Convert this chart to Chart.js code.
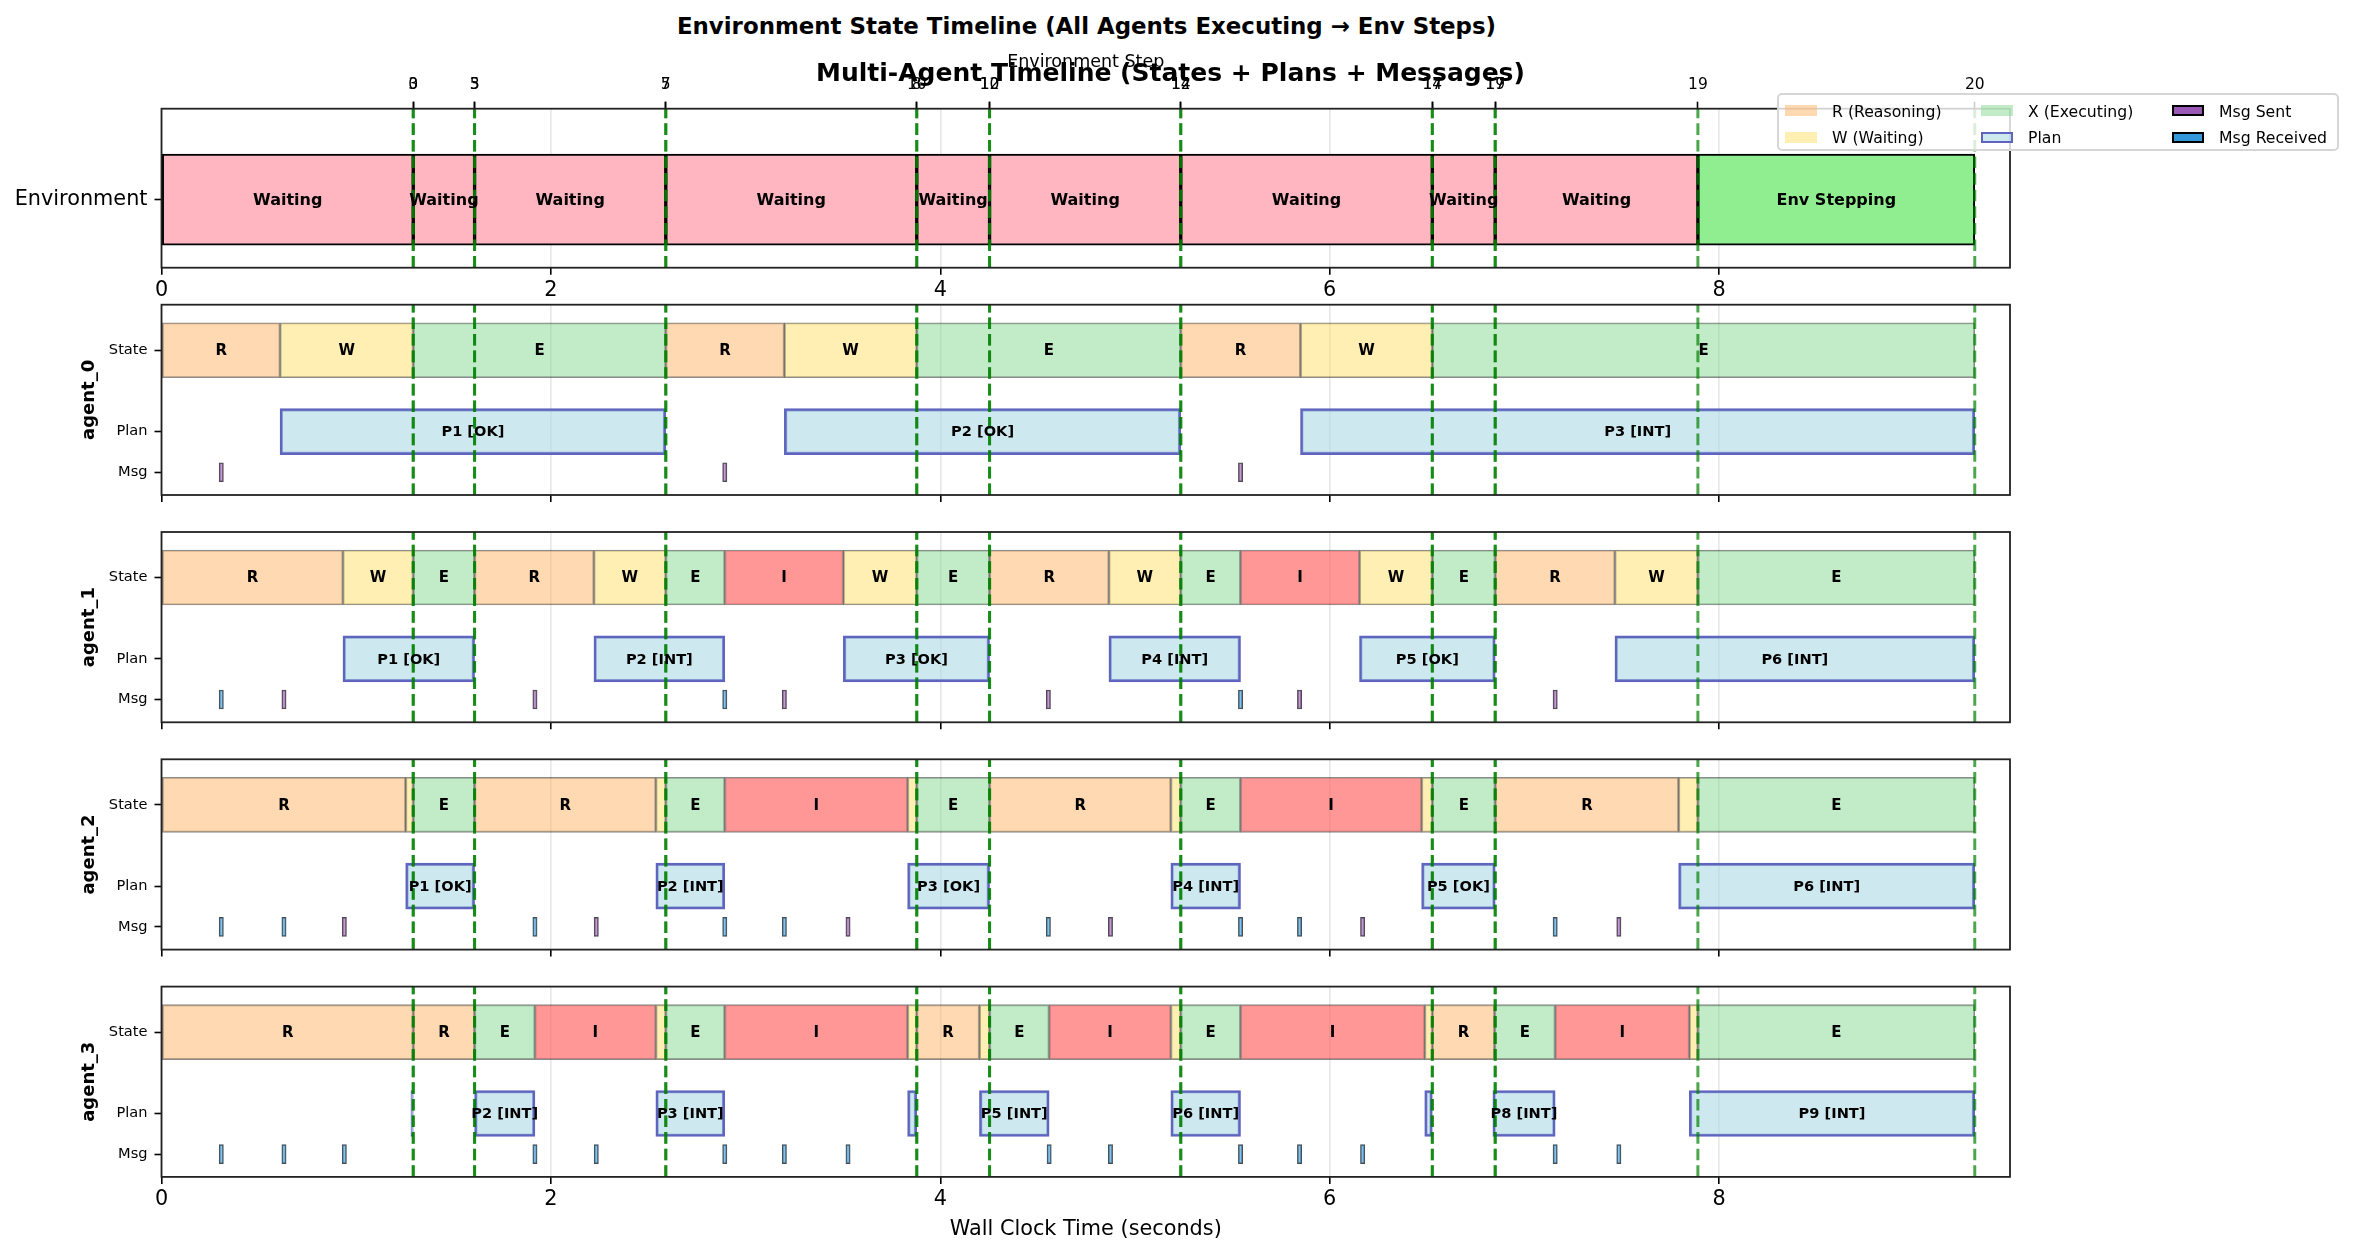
<!DOCTYPE html>
<html>
<head>
<meta charset="utf-8">
<script src="https://cdn.jsdelivr.net/npm/chart.js@4.4.1/dist/chart.umd.min.js"></script>
<style>
html,body{margin:0;padding:0;background:#fff;width:2353px;height:1255px;overflow:hidden;font-family:"DejaVu Sans",sans-serif;}
#wrap{position:relative;width:2353px;height:1255px;}
canvas{position:absolute;left:0;}
.ttl{position:absolute;white-space:nowrap;transform:translate(-50%,-50%);font-weight:bold;color:#000;z-index:5;}
#legend{position:absolute;left:1777px;top:93px;width:558px;height:54px;border:2px solid #d6d6d6;border-radius:5px;background:rgba(255,255,255,0.8);z-index:6;}
.lp{position:absolute;width:32px;height:11px;box-sizing:border-box;}
.lt{position:absolute;font-size:15.7px;white-space:nowrap;transform:translateY(-50%);color:#000;}
</style>
</head>
<body>
<div id="wrap">
<canvas id="cEnv" width="2353" height="280" style="top:40px"></canvas>
<canvas id="cA0" width="2353" height="250" style="top:285px"></canvas>
<canvas id="cA1" width="2353" height="250" style="top:512px"></canvas>
<canvas id="cA2" width="2353" height="250" style="top:739px"></canvas>
<canvas id="cA3" width="2353" height="288" style="top:967px"></canvas>
<div class="ttl" style="left:1086.5px;top:26px;font-size:22.9px">Environment State Timeline (All Agents Executing → Env Steps)</div>
<div class="ttl" style="left:1170.5px;top:72px;font-size:25px">Multi-Agent Timeline (States + Plans + Messages)</div>
<div id="legend"></div>
</div>
<script>
// ---------------- DATA ----------------
const timeTicks = [0, 2, 4, 6, 8];
const envStepTimes   = [1.293,1.293,1.608,1.608,2.590,2.590,3.879,3.879,4.253,4.253,5.235,5.235,6.527,6.527,6.850,6.850,7.891,9.313];
const envStepNumbers = [0,3,3,5,5,7,8,10,10,12,12,14,14,17,17,19,19,20];

const envSegments = [
  ['Waiting',0,1.293],['Waiting',1.293,1.608],['Waiting',1.608,2.590],['Waiting',2.590,3.879],
  ['Waiting',3.879,4.253],['Waiting',4.253,5.235],['Waiting',5.235,6.527],['Waiting',6.527,6.850],
  ['Waiting',6.850,7.891],['Env Stepping',7.891,9.313]
];

const rowTickValues = [1, 0, -0.5];
const rowTickLabels = ['State', 'Plan', 'Msg'];

const agent0States = [['R',0,0.609],['W',0.609,1.293],['E',1.293,2.590],['R',2.590,3.199],['W',3.199,3.879],['E',3.879,5.235],['R',5.235,5.850],['W',5.850,6.527],['E',6.527,9.313]];
const agent0Plans  = [['P1','OK',0.609,2.590],['P2','OK',3.199,5.235],['P3','INT',5.850,9.313]];
const agent0Msgs   = [['S',0.307],['S',2.893],['S',5.542]];

const agent1States = [['R',0,0.932],['W',0.932,1.293],['E',1.293,1.608],['R',1.608,2.221],['W',2.221,2.590],['E',2.590,2.893],['I',2.893,3.502],['W',3.502,3.879],['E',3.879,4.253],['R',4.253,4.866],['W',4.866,5.235],['E',5.235,5.542],['I',5.542,6.153],['W',6.153,6.527],['E',6.527,6.850],['R',6.850,7.465],['W',7.465,7.891],['E',7.891,9.313]];
const agent1Plans  = [['P1','OK',0.932,1.608],['P2','INT',2.221,2.893],['P3','OK',3.502,4.253],['P4','INT',4.866,5.542],['P5','OK',6.153,6.850],['P6','INT',7.465,9.313]];
const agent1Msgs   = [['R',0.307],['S',0.629],['S',1.918],['R',2.893],['S',3.199],['S',4.555],['R',5.542],['S',5.845],['S',7.158]];

const agent2States = [['R',0,1.254],['W',1.254,1.293],['E',1.293,1.608],['R',1.608,2.539],['W',2.539,2.590],['E',2.590,2.893],['I',2.893,3.832],['W',3.832,3.879],['E',3.879,4.253],['R',4.253,5.184],['W',5.184,5.235],['E',5.235,5.542],['I',5.542,6.472],['W',6.472,6.527],['E',6.527,6.850],['R',6.850,7.792],['W',7.792,7.891],['E',7.891,9.313]];
const agent2Plans  = [['P1','OK',1.254,1.608],['P2','INT',2.539,2.893],['P3','OK',3.832,4.253],['P4','INT',5.184,5.542],['P5','OK',6.472,6.850],['P6','INT',7.792,9.313]];
const agent2Msgs   = [['R',0.307],['R',0.629],['S',0.939],['R',1.918],['S',2.233],['R',2.893],['R',3.199],['S',3.526],['R',4.555],['S',4.874],['R',5.542],['R',5.845],['S',6.169],['R',7.158],['S',7.485]];

const agent3States = [['R',0,1.293],['R',1.293,1.608],['E',1.608,1.918],['I',1.918,2.539],['W',2.539,2.590],['E',2.590,2.893],['I',2.893,3.832],['W',3.832,3.879],['R',3.879,4.201],['W',4.201,4.253],['E',4.253,4.559],['I',4.559,5.184],['W',5.184,5.235],['E',5.235,5.542],['I',5.542,6.488],['W',6.488,6.527],['R',6.527,6.847],['E',6.847,7.158],['I',7.158,7.847],['W',7.847,7.891],['E',7.891,9.313]];
const agent3Plans  = [['P1','INT',1.281,1.293],['P2','INT',1.608,1.918],['P3','INT',2.539,2.893],['P4','INT',3.832,3.879],['P5','INT',4.201,4.559],['P6','INT',5.184,5.542],['P7','INT',6.488,6.527],['P8','INT',6.838,7.158],['P9','INT',7.847,9.313]];
const agent3Msgs   = [['R',0.307],['R',0.629],['R',0.939],['R',1.918],['R',2.233],['R',2.893],['R',3.199],['R',3.526],['R',4.559],['R',4.874],['R',5.542],['R',5.845],['R',6.169],['R',7.158],['R',7.485]];

// ---------------- STYLE ----------------
const X_MAX = 9.494;
const STATE_ROW = 1, PLAN_ROW = 0, MSG_ROW = -0.5;
const MSG_HALF = 0.011;
const STATE_COLORS = {R:'rgba(255,179,102,0.5)', W:'rgba(255,223,102,0.5)', E:'rgba(133,215,145,0.5)', I:'rgba(255,107,107,0.7)'};
const ENV_COLORS = {'Waiting':'#FFB6C1', 'Env Stepping':'#90EE90'};
const SENT_COLOR = 'rgba(155,89,182,0.6)', RECV_COLOR = 'rgba(52,152,219,0.6)';
const PLAN_FILL = 'rgba(173,216,230,0.6)', PLAN_EDGE = 'rgb(95,100,190)';
const FONT = '"DejaVu Sans"';
Chart.defaults.font.family = FONT;
Chart.defaults.color = '#000';

const overlay = {
  id: 'overlay',
  afterDatasetsDraw(chart) {
    const {ctx, chartArea: a, scales} = chart;
    const x = scales.x;
    ctx.save();
    ctx.beginPath(); ctx.rect(a.left, a.top, a.right - a.left, a.bottom - a.top); ctx.clip();
    ctx.setLineDash([11.6, 5]);
    ctx.lineWidth = 3;
    ctx.strokeStyle = 'rgba(0,128,0,0.7)';
    envStepTimes.forEach(t => {
      const px = x.getPixelForValue(t);
      ctx.beginPath(); ctx.moveTo(px, a.bottom); ctx.lineTo(px, a.top); ctx.stroke();
    });
    ctx.restore();
    ctx.save();
    ctx.setLineDash([]);
    chart.data.datasets.forEach((ds, di) => {
      if (!ds.barLabels) return;
      const meta = chart.getDatasetMeta(di);
      ctx.font = ds.labelFont;
      ctx.fillStyle = '#000'; ctx.textAlign = 'center'; ctx.textBaseline = 'middle';
      meta.data.forEach((el, i) => {
        const lab = ds.barLabels[i]; if (!lab) return;
        const p = el.getProps(['x','y','base'], true);
        ctx.fillText(lab, (p.x + p.base) / 2, p.y + 1);
      });
    });
    ctx.lineWidth = 1.8; ctx.strokeStyle = '#222';
    ctx.strokeRect(a.left, a.top, a.right - a.left, a.bottom - a.top);
    ctx.restore();
  }
};

function xScale(showLabels, bottomH, withTitle) {
  return {
    type: 'linear', position: 'bottom', min: 0, max: X_MAX, bounds: 'data',
    afterBuildTicks: s => { s.ticks = timeTicks.map(v => ({value: v})); },
    ticks: {display: showLabels, autoSkip: false, maxRotation: 0, minRotation: 0, padding: 3, font: {size: 20.8}},
    grid: {color: 'rgba(176,176,176,0.3)', lineWidth: 1.6, tickColor: '#000', tickLength: 7, tickWidth: 1.6},
    border: {display: false},
    title: {display: withTitle, text: 'Wall Clock Time (seconds)', font: {size: 20.8}, padding: {top: 0, bottom: 12.5}},
    afterFit: s => { s.height = bottomH; s.paddingLeft = 0; s.paddingRight = 0; }
  };
}
function hiddenY(min, max) {
  return {type: 'linear', display: false, min, max, bounds: 'data', offset: false, grid: {offset: false}};
}

function agentChart(id, name, states, plans, msgs, padTop, canvasH, isLast) {
  const bottomH = canvasH - padTop - 190.3;
  const yMin = -0.78, yMax = 1.56;
  return new Chart(document.getElementById(id), {
    type: 'bar',
    data: {
      datasets: [
        {
          yAxisID: 'y', grouped: false,
          data: states.map(s => ({x: [s[1], s[2]], y: STATE_ROW})),
          backgroundColor: states.map(s => STATE_COLORS[s[0]]),
          borderColor: 'rgba(0,0,0,0.45)', borderWidth: 1.2, borderSkipped: false, barThickness: 55, maxBarThickness: 55,
          barLabels: states.map(s => (s[2] - s[1] > 0.1 ? s[0] : '')),
          labelFont: 'bold 15px ' + FONT
        },
        {
          yAxisID: 'yP', grouped: false,
          data: plans.map(p => ({x: [p[2], p[3]], y: PLAN_ROW})),
          backgroundColor: PLAN_FILL, borderColor: PLAN_EDGE, borderWidth: 2.5, borderSkipped: false, barThickness: 46, maxBarThickness: 46,
          barLabels: plans.map(p => (p[3] - p[2] > 0.1 ? p[0] + ' [' + p[1] + ']' : '')),
          labelFont: 'bold 14.6px ' + FONT
        },
        {
          yAxisID: 'yM', grouped: false,
          data: msgs.map(m => ({x: [m[1] - MSG_HALF, m[1] + MSG_HALF], y: MSG_ROW})),
          backgroundColor: msgs.map(m => (m[0] === 'S' ? SENT_COLOR : RECV_COLOR)),
          borderColor: 'rgba(0,0,0,0.7)', borderWidth: 1, borderSkipped: false, barThickness: 19, maxBarThickness: 19
        }
      ]
    },
    options: {
      indexAxis: 'y', responsive: false, animation: false, devicePixelRatio: 1,
      layout: {padding: {left: 0, right: 343, top: padTop, bottom: 0}},
      plugins: {legend: {display: false}, tooltip: {enabled: false}},
      scales: {
        x: xScale(isLast, bottomH, isLast),
        y: {
          type: 'linear', position: 'left', min: yMin, max: yMax, bounds: 'data', offset: false,
          afterBuildTicks: s => { s.ticks = rowTickValues.map(v => ({value: v})); },
          ticks: {callback: (v, i) => rowTickLabels[i], padding: 7, autoSkip: false, font: {size: 14.6}},
          grid: {drawOnChartArea: false, offset: false, tickColor: '#000', tickLength: 7, tickWidth: 1.6},
          border: {display: false},
          title: {display: true, text: name, font: {size: 18, weight: 'bold'}, padding: {top: 79, bottom: 0}},
          afterFit: s => { s.width = 161.5; s.paddingTop = 0; s.paddingBottom = 0; }
        },
        yP: hiddenY(yMin, yMax),
        yM: hiddenY(yMin, yMax)
      }
    },
    plugins: [overlay]
  });
}

// Environment chart
new Chart(document.getElementById('cEnv'), {
  type: 'bar',
  data: {
    datasets: [{
      yAxisID: 'y', grouped: false,
      data: envSegments.map(s => ({x: [s[1], s[2]], y: 0})),
      backgroundColor: envSegments.map(s => ENV_COLORS[s[0]]),
      borderColor: '#000', borderWidth: 2, borderSkipped: false, barThickness: 91, maxBarThickness: 91,
      barLabels: envSegments.map(s => s[0]),
      labelFont: 'bold 16px ' + FONT
    }]
  },
  options: {
    indexAxis: 'y', responsive: false, animation: false, devicePixelRatio: 1,
    layout: {padding: {left: 0, right: 343, top: 0, bottom: 0}},
    plugins: {legend: {display: false}, tooltip: {enabled: false}},
    scales: {
      x: xScale(true, 52.3, false),
      x2: {
        type: 'linear', position: 'top', min: 0, max: X_MAX, bounds: 'data',
        afterBuildTicks: s => { s.ticks = envStepTimes.map(v => ({value: v})); },
        ticks: {callback: (v, i) => String(envStepNumbers[i]), autoSkip: false, maxRotation: 0, minRotation: 0, padding: 7, font: {size: 15.5}},
        grid: {drawOnChartArea: false, tickColor: '#000', tickLength: 7, tickWidth: 1.6},
        border: {display: false},
        title: {display: true, text: 'Environment Step', font: {size: 17.5}, padding: {top: 11.5, bottom: 0}},
        afterFit: s => { s.height = 68.7; s.paddingLeft = 0; s.paddingRight = 0; }
      },
      y: {
        type: 'linear', position: 'left', min: -0.45, max: 0.6, bounds: 'data', offset: false,
        afterBuildTicks: s => { s.ticks = [{value: 0}]; },
        ticks: {callback: () => 'Environment', padding: 7, font: {size: 20.8}},
        grid: {drawOnChartArea: false, offset: false, tickColor: '#000', tickLength: 7, tickWidth: 1.6},
        border: {display: false},
        afterFit: s => { s.width = 161.5; s.paddingTop = 0; s.paddingBottom = 0; }
      }
    }
  },
  plugins: [overlay]
});

agentChart('cA0', 'agent_0', agent0States, agent0Plans, agent0Msgs, 19.7, 250, false);
agentChart('cA1', 'agent_1', agent1States, agent1Plans, agent1Msgs, 20.0, 250, false);
agentChart('cA2', 'agent_2', agent2States, agent2Plans, agent2Msgs, 20.3, 250, false);
agentChart('cA3', 'agent_3', agent3States, agent3Plans, agent3Msgs, 19.6, 288, true);

// Legend (HTML, real text)
const legendItems = [
  {label: 'R (Reasoning)', fill: STATE_COLORS.R, edge: 'none', col: 0, row: 0},
  {label: 'W (Waiting)', fill: STATE_COLORS.W, edge: 'none', col: 0, row: 1},
  {label: 'X (Executing)', fill: STATE_COLORS.E, edge: 'none', col: 1, row: 0},
  {label: 'Plan', fill: PLAN_FILL, edge: '2.5px solid ' + PLAN_EDGE, col: 1, row: 1},
  {label: 'Msg Sent', fill: '#9b59b6', edge: '2.5px solid #000', col: 2, row: 0},
  {label: 'Msg Received', fill: '#3498db', edge: '2.5px solid #000', col: 2, row: 1}
];
const colPatchX = [6, 202, 393];
const rowY = [15.7, 42];
const leg = document.getElementById('legend');
legendItems.forEach(it => {
  const p = document.createElement('div');
  p.className = 'lp';
  p.style.left = colPatchX[it.col] + 'px';
  p.style.top = (rowY[it.row] - 5.5) + 'px';
  p.style.background = it.fill;
  p.style.border = it.edge;
  leg.appendChild(p);
  const t = document.createElement('div');
  t.className = 'lt';
  t.style.left = (colPatchX[it.col] + 47) + 'px';
  t.style.top = rowY[it.row] + 'px';
  t.textContent = it.label;
  leg.appendChild(t);
});
</script>
</body>
</html>
